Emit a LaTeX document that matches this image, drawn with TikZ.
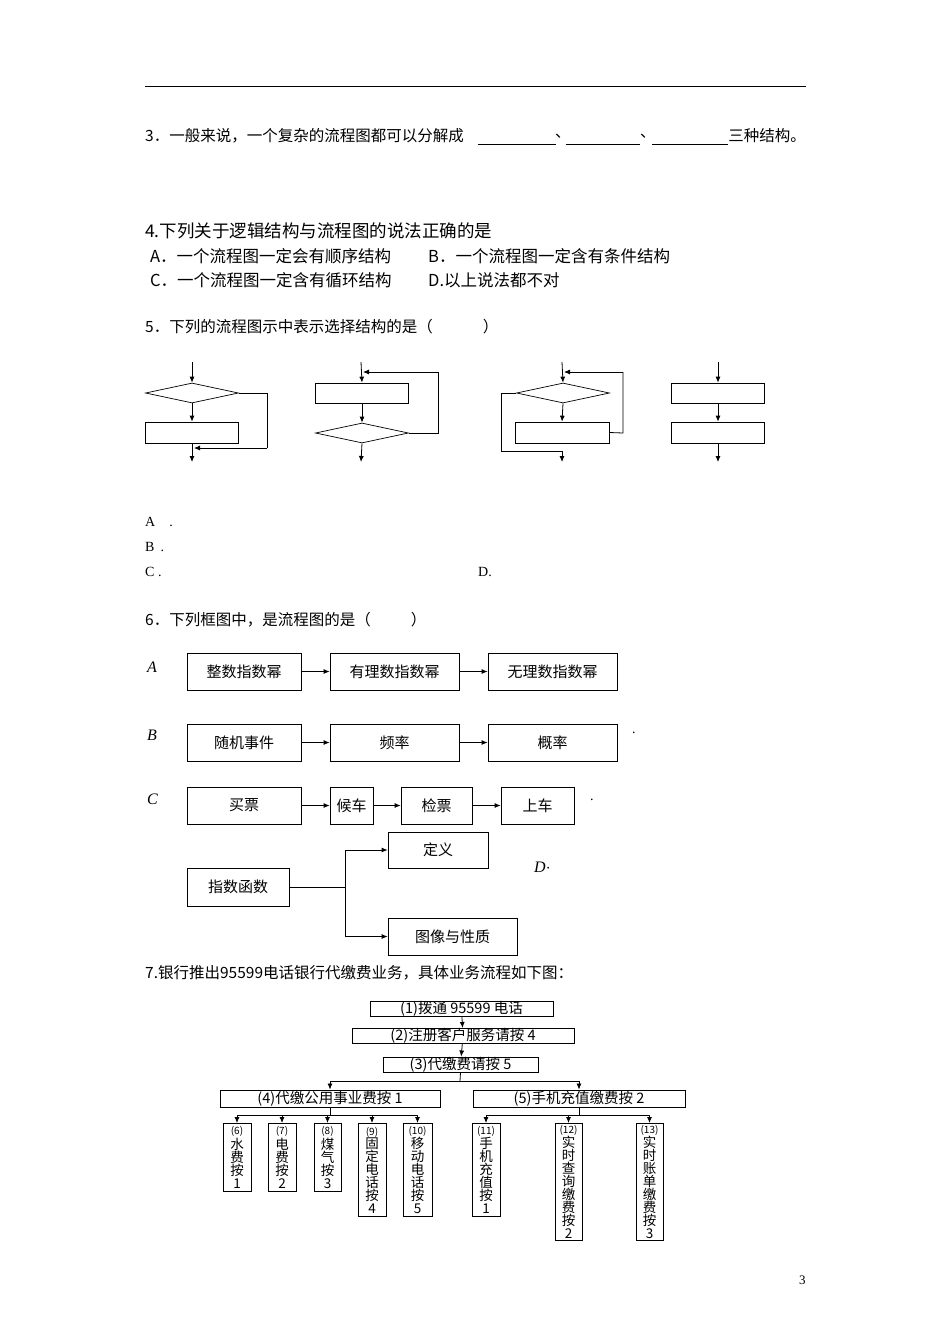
\documentclass[tikz,border=0pt]{standalone}
\usepackage{fontspec}
\setmainfont{Noto Sans CJK SC}
\newfontfamily\lat{Liberation Serif}
\usetikzlibrary{arrows.meta,shapes.geometric}
\begin{document}
\begin{tikzpicture}[x=1pt,y=-1pt,
  txt/.style={anchor=west,inner sep=0,font=\fontsize{15.5}{17}\selectfont},
  box/.style={draw,thick,inner sep=0,font=\fontsize{15}{17}\selectfont},
  sbox/.style={draw,line width=0.7pt,inner sep=0},
  dia/.style={draw,line width=0.7pt,diamond,aspect=4.65,inner sep=0,minimum width=93pt,minimum height=20pt},
  ar/.style={-{Latex[length=6pt,width=5pt]},line width=0.8pt},
  ln/.style={line width=0.8pt},
  bk/.style={draw,line width=0.9pt,inner sep=0,font=\fontsize{14.5}{15}\selectfont},
  leaf/.style={draw,line width=0.9pt,inner sep=0,align=center,font=\fontsize{13.5}{13}\selectfont}]
\useasboundingbox (0,0) rectangle (950,1344);
\fill[white] (0,0) rectangle (950,1344);
\draw[line width=1pt] (145,86) -- (806,86);
% Q3
\node[txt] (q3) at (145,136) {3．一般来说，一个复杂的流程图都可以分解成};
\draw[line width=0.5pt] (478,144) -- (556,144) (566,144) -- (640,144) (652,144) -- (728,144);
\node[txt] (c1) at (555,136) {、};
\node[txt] (c2) at (640,136) {、};
\node[txt,anchor=east] (q3e) at (806,136) {三种结构。};
% Q4
\node[txt,font=\fontsize{17.5}{19}\selectfont] (q4) at (145,231) {4.下列关于逻辑结构与流程图的说法正确的是};
\node[txt,font=\fontsize{16.5}{19}\selectfont] (q4a) at (150,256) {A．一个流程图一定会有顺序结构};
\node[txt,font=\fontsize{16.5}{19}\selectfont] (q4b) at (428,256) {B．一个流程图一定含有条件结构};
\node[txt,font=\fontsize{16.5}{19}\selectfont] (q4c) at (150,280) {C．一个流程图一定含有循环结构};
\node[txt,font=\fontsize{16.5}{19}\selectfont] (q4d) at (428,280) {D.以上说法都不对};
% Q5
\node[txt] (q5) at (145,327) {5．下列的流程图示中表示选择结构的是（\hspace{50pt}）};
% A
\coordinate (at) at (192,362);
\node[dia] (ad) at (192,393) {};
\node[sbox,minimum width=93pt,minimum height=21pt] (ar) at (192,432.5) {};
\coordinate (ab) at (192,462);
\draw[ar] (at) -- (ad.north);
\draw[ar] (ad.south) -- (ar.north);
\draw[ar] (ar.south) -- (ab);
\draw[ln] (ad.east) -- (267,393) -- (267,448);
\draw[ar] (267,448) -- (194,448);
% B
\coordinate (bt) at (361,362);
\node[sbox,minimum width=93pt,minimum height=20pt] (br) at (362,393) {};
\node[dia] (bd) at (362,433) {};
\coordinate (bb) at (361,462);
\draw[ar] (bt) -- (br.north);
\draw[ar] (br.south) -- (bd.north);
\draw[ar] (bd.south) -- (bb);
\draw[ln] (bd.east) -- (438,433) -- (438,372);
\draw[ar] (438,372) -- (363,372);
% C
\coordinate (ct) at (562,362);
\node[dia] (cd) at (563,393) {};
\node[sbox,minimum width=94pt,minimum height=21pt] (cr) at (562,432.5) {};
\coordinate (cb) at (562,462);
\draw[ar] (ct) -- (cd.north);
\draw[ar] (cd.south) -- (cr.north);
\draw[ln] (cr.east) -- (623,433) -- (623,372);
\draw[ar] (623,372) -- (564,372);
\draw[ln] (cd.west) -- (501,393) -- (501,451) -- (562,451);
\draw[ar] (562,451) -- (cb);
% D
\coordinate (dt) at (718,362);
\node[sbox,minimum width=93pt,minimum height=20pt] (dr1) at (718,393) {};
\node[sbox,minimum width=93pt,minimum height=21pt] (dr2) at (718,432.5) {};
\coordinate (db) at (718,462);
\draw[ar] (dt) -- (dr1.north);
\draw[ar] (dr1.south) -- (dr2.north);
\draw[ar] (dr2.south) -- (db);
\node[txt,font=\lat\fontsize{14}{16}\selectfont] (oa) at (145,522) {A\hspace{14pt}.};
\node[txt,font=\lat\fontsize{14}{16}\selectfont] (ob) at (145,547) {B\hspace{6pt}.};
\node[txt,font=\lat\fontsize{14}{16}\selectfont] (oc) at (145,572) {C .};
\node[txt,font=\lat\fontsize{14}{16}\selectfont] (od) at (478,572) {D.};
% Q6
\node[txt] (q6) at (145,620) {6．下列框图中，是流程图的是（\hspace{40pt}）};
\node[txt,font=\lat\itshape\fontsize{16}{18}\selectfont] (la) at (147,667) {A};
\node[box,minimum width=114pt,minimum height=37pt] (a1) at (244,671.5) {整数指数幂};
\node[box,minimum width=129pt,minimum height=37pt] (a2) at (394.5,671.5) {有理数指数幂};
\node[box,minimum width=129pt,minimum height=37pt] (a3) at (552.5,671.5) {无理数指数幂};
\draw[ar] (a1) -- (a2); \draw[ar] (a2) -- (a3);
\node[txt,font=\lat\itshape\fontsize{16}{18}\selectfont] (lb) at (147,735) {B};
\node[box,minimum width=114pt,minimum height=37pt] (b1) at (244,742.5) {随机事件};
\node[box,minimum width=129pt,minimum height=37pt] (b2) at (394.5,742.5) {频率};
\node[box,minimum width=129pt,minimum height=37pt] (b3) at (552.5,742.5) {概率};
\draw[ar] (b1) -- (b2); \draw[ar] (b2) -- (b3);
\node[txt,font=\lat\fontsize{14}{16}\selectfont] (pb) at (632,733) {.};
\node[txt,font=\lat\itshape\fontsize{16}{18}\selectfont] (lc) at (147,799) {C};
\node[box,minimum width=114pt,minimum height=37pt] (c1b) at (244,805.5) {买票};
\node[box,minimum width=43pt,minimum height=37pt] (c2b) at (351.5,805.5) {候车};
\node[box,minimum width=71pt,minimum height=37pt] (c3b) at (436.5,805.5) {检票};
\node[box,minimum width=73pt,minimum height=37pt] (c4b) at (537.5,805.5) {上车};
\draw[ar] (c1b) -- (c2b); \draw[ar] (c2b) -- (c3b); \draw[ar] (c3b) -- (c4b);
\node[txt,font=\lat\fontsize{14}{16}\selectfont] (pc) at (590,800) {.};
\node[box,minimum width=102pt,minimum height=38pt] (f) at (238,887) {指数函数};
\node[box,minimum width=100pt,minimum height=36pt] (def) at (438,850) {定义};
\node[box,minimum width=129pt,minimum height=37pt] (img) at (452.5,936.5) {图像与性质};
\coordinate (fj) at (345,887);
\draw[ln] (f.east) -- (fj);
\draw[ar] (fj) |- (def.west);
\draw[ar] (fj) |- (img.west);
\node[txt,font=\lat\itshape\fontsize{16}{18}\selectfont] (ld) at (534,867) {D$\cdot$};
% Q7
\node[txt] (q7) at (145,973) {7.银行推出95599电话银行代缴费业务，具体业务流程如下图：};
\node[bk,minimum width=183pt,minimum height=14pt] (k1) at (461.5,1009) {(1)拨通 95599 电话};
\node[bk,minimum width=222pt,minimum height=14pt] (k2) at (463,1036) {(2)注册客户服务请按 4};
\node[bk,minimum width=155pt,minimum height=15pt] (k3) at (460.5,1064.5) {(3)代缴费请按 5};
\node[bk,minimum width=220pt,minimum height=17pt] (k4) at (330,1098.5) {(4)代缴公用事业费按 1};
\node[bk,minimum width=212pt,minimum height=17pt] (k5) at (579,1098.5) {(5)手机充值缴费按 2};
\draw[ar] (k1) -- (k2); \draw[ar] (k2) -- (k3);
\coordinate (h1) at (460,1081);
\draw[ln] (k3.south) -- (h1);
\draw[ar] (h1) -| (k4.north);
\draw[ar] (h1) -| (k5.north);
\node[leaf,minimum width=28pt,minimum height=68pt,anchor=north] (l6) at (237,1123) {{\fontsize{10}{11}\selectfont(6)}\\水\\费\\按\\1};
\node[leaf,minimum width=28pt,minimum height=68pt,anchor=north] (l7) at (282,1123) {{\fontsize{10}{11}\selectfont(7)}\\电\\费\\按\\2};
\node[leaf,minimum width=27pt,minimum height=68pt,anchor=north] (l8) at (327.5,1123) {{\fontsize{10}{11}\selectfont(8)}\\煤\\气\\按\\3};
\node[leaf,minimum width=28pt,minimum height=93pt,anchor=north] (l9) at (372,1123) {{\fontsize{10}{11}\selectfont(9)}\\固\\定\\电\\话\\按\\4};
\node[leaf,minimum width=29pt,minimum height=93pt,anchor=north] (l10) at (417.5,1123) {{\fontsize{10}{11}\selectfont(10)}\\移\\动\\电\\话\\按\\5};
\node[leaf,minimum width=28pt,minimum height=93pt,anchor=north] (l11) at (486,1123) {{\fontsize{10}{11}\selectfont(11)}\\手\\机\\充\\值\\按\\1};
\node[leaf,minimum width=27pt,minimum height=117pt,anchor=north] (l12) at (568.5,1123) {{\fontsize{10}{11}\selectfont(12)}\\实\\时\\查\\询\\缴\\费\\按\\2};
\node[leaf,minimum width=27pt,minimum height=117pt,anchor=north] (l13) at (649.5,1123) {{\fontsize{10}{11}\selectfont(13)}\\实\\时\\账\\单\\缴\\费\\按\\3};
\coordinate (hl) at (0,1115);
\draw[ln] (k4.south) -- (k4.south |- hl);
\draw[ln] (k5.south) -- (k5.south |- hl);
\draw[ln] (l6.north |- hl) -- (l10.north |- hl);
\draw[ln] (l11.north |- hl) -- (l13.north |- hl);
\foreach \l in {l6,l7,l8,l9,l10,l11,l12,l13} \draw[ar] (\l.north |- hl) -- (\l.north);
\node[txt,font=\lat\fontsize{13}{15}\selectfont] (pg) at (799,1280) {3};
\end{tikzpicture}
\end{document}
